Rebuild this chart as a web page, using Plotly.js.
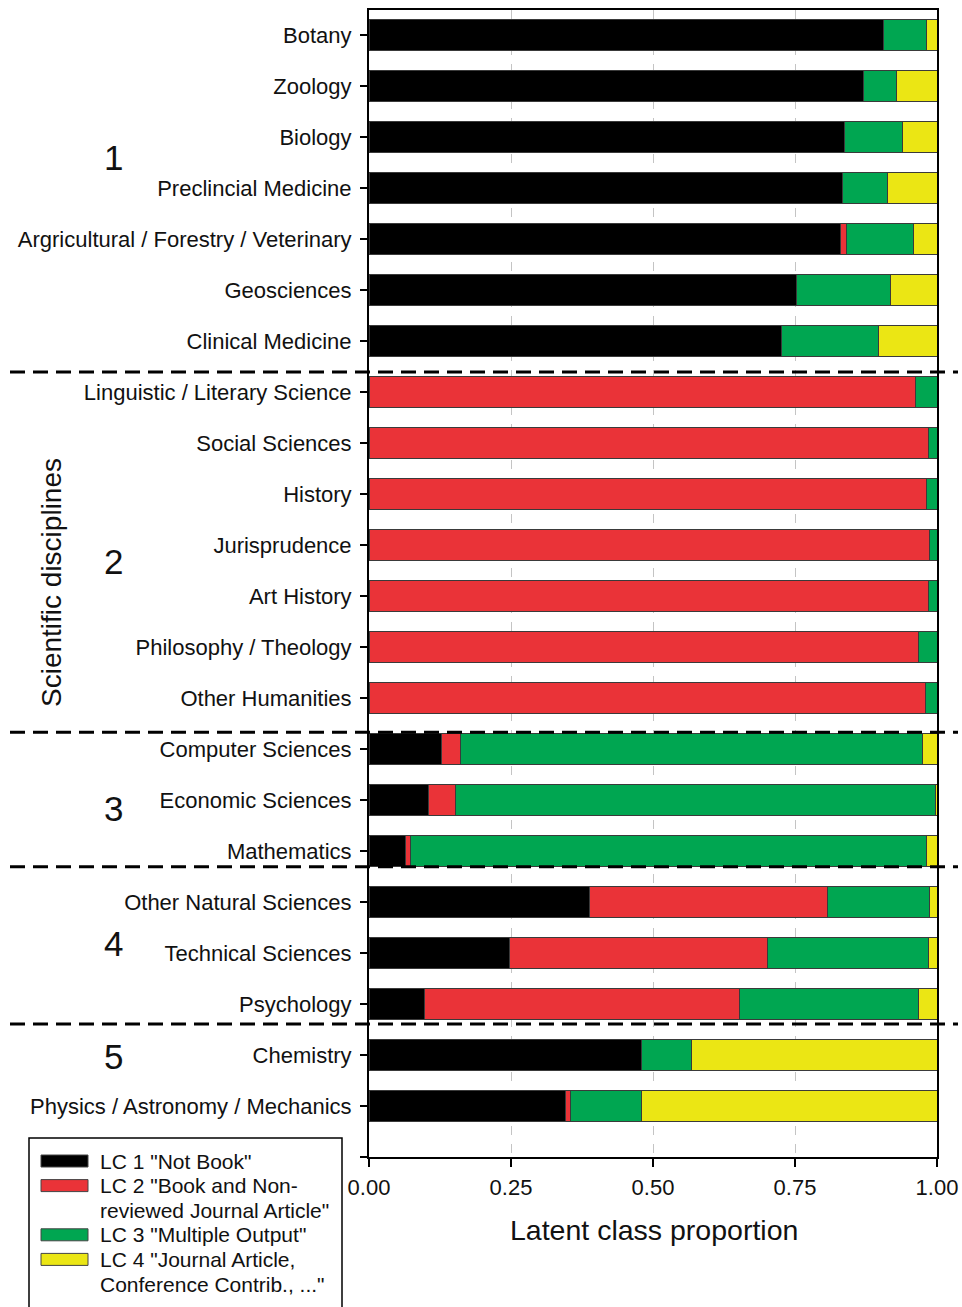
<!DOCTYPE html>
<html>
<head>
<meta charset="utf-8">
<script src="https://cdn.plot.ly/plotly-3.0.1.min.js"></script>
<style>html,body{margin:0;padding:0;background:#fff;}#chart{width:962px;height:1307px;}</style>
</head>
<body>
<div id="chart"></div>
<script>
const categories = [
  "Botany", "Zoology", "Biology", "Preclincial Medicine",
  "Argricultural / Forestry / Veterinary", "Geosciences", "Clinical Medicine",
  "Linguistic / Literary Science", "Social Sciences", "History", "Jurisprudence",
  "Art History", "Philosophy / Theology", "Other Humanities",
  "Computer Sciences", "Economic Sciences", "Mathematics",
  "Other Natural Sciences", "Technical Sciences", "Psychology",
  "Chemistry", "Physics / Astronomy / Mechanics"
];
const lc1 = [0.906, 0.870, 0.838, 0.834, 0.830, 0.753, 0.727,
             0, 0, 0, 0, 0, 0, 0,
             0.128, 0.104, 0.064,
             0.389, 0.248, 0.097,
             0.479, 0.346];
const lc2 = [0, 0, 0, 0, 0.010, 0, 0,
             0.963, 0.985, 0.982, 0.987, 0.985, 0.968, 0.980,
             0.033, 0.049, 0.009,
             0.419, 0.453, 0.555,
             0, 0.008];
const lc3 = [0.075, 0.058, 0.102, 0.078, 0.118, 0.166, 0.170,
             0.037, 0.015, 0.018, 0.013, 0.015, 0.032, 0.020,
             0.814, 0.845, 0.909,
             0.179, 0.284, 0.316,
             0.089, 0.125];
const lc4 = [0.019, 0.072, 0.060, 0.088, 0.042, 0.081, 0.103,
             0, 0, 0, 0, 0, 0, 0,
             0.025, 0.002, 0.018,
             0.013, 0.015, 0.032,
             0.432, 0.521];
const seriesNames = ['LC 1 "Not Book"', 'LC 2 "Book and Non-reviewed Journal Article"',
                     'LC 3 "Multiple Output"', 'LC 4 "Journal Article, Conference Contrib., ..."'];
const legendLines = [
  ['LC 1 "Not Book"'],
  ['LC 2 "Book and Non-', 'reviewed Journal Article"'],
  ['LC 3 "Multiple Output"'],
  ['LC 4 "Journal Article,', 'Conference Contrib., ..."']
];
const groupLabels = ["1", "2", "3", "4", "5"];
const xTickVals = [0, 0.25, 0.5, 0.75, 1.0];
const xTickText = ["0.00", "0.25", "0.50", "0.75", "1.00"];

const colors = ["#000000", "#EA3338", "#00A651", "#EBE614"];
const FONT = "Arial, 'Liberation Sans', sans-serif";
const W = 962, H = 1307, ML = 369, MR = 25, MT = 10, MB = 150;
const PW = W - ML - MR, PH = H - MT - MB;
const px = x => (x - ML) / PW;            // pixel x -> paper x
const py = y => (H - MB - y) / PH;        // pixel y -> paper y

const yIdx = categories.map((_, i) => i);
const allSeries = [lc1, lc2, lc3, lc4];
const traces = allSeries.map((vals, k) => ({
  type: "bar", orientation: "h",
  x: vals, y: yIdx, name: seriesNames[k],
  width: 0.61,
  marker: {color: colors[k], line: {color: "#3a3a3a", width: 1}},
  showlegend: false, hoverinfo: "x+name"
}));

const shapes = [];
const annotations = [];

// group separators
const separatorY = [6.61, 13.67, 16.31, 19.39];
separatorY.forEach(y => shapes.push({
  type: "line", xref: "paper", yref: "y",
  x0: px(10), x1: px(958), y0: y, y1: y,
  line: {color: "#000", width: 3, dash: "15px,8px"}
}));

// group numbers
const groupLabelY = [2.41, 10.33, 15.16, 17.82, 20.02];
groupLabels.forEach((g, i) => annotations.push({
  text: g, xref: "paper", yref: "y", x: px(113), y: groupLabelY[i],
  showarrow: false, xanchor: "center", yanchor: "middle",
  font: {family: FONT, size: 35, color: "#111"}
}));

// y-axis title
annotations.push({
  text: "Scientific disciplines", xref: "paper", yref: "paper",
  x: px(51), y: py(583), textangle: -90, showarrow: false,
  xanchor: "center", yanchor: "middle",
  font: {family: FONT, size: 28, color: "#111"}
});
// x-axis title
annotations.push({
  text: "Latent class proportion", xref: "paper", yref: "paper",
  x: px(654), y: py(1230), showarrow: false,
  xanchor: "center", yanchor: "middle",
  font: {family: FONT, size: 28.5, color: "#111"}
});

// legend (drawn manually)
shapes.push({
  type: "rect", xref: "paper", yref: "paper",
  x0: px(29), x1: px(342), y0: py(1138), y1: py(1312),
  line: {color: "#000", width: 1.5}, fillcolor: "rgba(0,0,0,0)"
});
let lineNo = 0;
legendLines.forEach((lines, k) => {
  const yc = 1161 + lineNo * 24.6;
  shapes.push({
    type: "rect", xref: "paper", yref: "paper",
    x0: px(41), x1: px(88), y0: py(yc - 6), y1: py(yc + 6),
    line: {color: "#444", width: 1}, fillcolor: colors[k]
  });
  lines.forEach(t => {
    annotations.push({
      text: t, xref: "paper", yref: "paper",
      x: px(98), y: py(1161 + lineNo * 24.6), showarrow: false,
      xanchor: "left", yanchor: "middle",
      font: {family: FONT, size: 21, color: "#111"}
    });
    lineNo++;
  });
});

const layout = {
  width: W, height: H,
  margin: {l: ML, r: MR, t: MT, b: MB, pad: 0},
  paper_bgcolor: "#fff", plot_bgcolor: "#fff",
  barmode: "stack", bargap: 0.39,
  font: {family: FONT, color: "#111"},
  xaxis: {
    range: [0, 1], tickmode: "array", tickvals: xTickVals, ticktext: xTickText,
    showgrid: true, gridcolor: "#c4c4c4", gridwidth: 1, griddash: "dash",
    zeroline: false, showline: true, linecolor: "#000", linewidth: 2, mirror: true,
    ticks: "outside", ticklen: 8, tickwidth: 2, tickcolor: "#000",
    tickfont: {family: FONT, size: 22, color: "#111"}, ticklabelstandoff: 2
  },
  yaxis: {
    range: [22, -0.49], tickmode: "array",
    tickvals: yIdx.concat([22]), ticktext: categories.concat([""]),
    showgrid: false, zeroline: false,
    showline: true, linecolor: "#000", linewidth: 2, mirror: true,
    ticks: "outside", ticklen: 7, tickwidth: 1.5, tickcolor: "#000",
    tickfont: {family: FONT, size: 22, color: "#111"}, ticklabelstandoff: 4
  },
  shapes: shapes,
  annotations: annotations
};

Plotly.newPlot("chart", traces, layout, {staticPlot: true, displayModeBar: false});
</script>
</body>
</html>
